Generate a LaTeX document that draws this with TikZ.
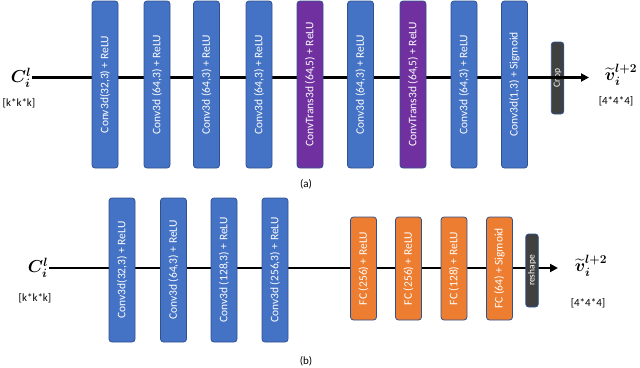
\documentclass[tikz,border=0pt]{standalone}
\usepackage{fontspec}
\setmainfont{Carlito}
\usepackage{amsmath,bm}
\usetikzlibrary{arrows.meta,backgrounds}

\definecolor{convblue}{HTML}{4472C4}
\definecolor{convedge}{HTML}{2F528F}
\definecolor{transpurple}{HTML}{7030A0}
\definecolor{fcorange}{HTML}{ED7D31}
\definecolor{cropgray}{HTML}{404040}

\begin{document}
\begin{tikzpicture}[x=1pt, y=-1pt,
    layer/.style={draw=convedge, line width=0.8pt, fill=convblue, rounded corners=3pt,
        text=white, rotate=90, inner sep=0pt, minimum height=26pt,
        font=\fontsize{11.5}{12}\selectfont},
    trans/.style={layer, fill=transpurple},
    fclayer/.style={layer, fill=fcorange},
    shaper/.style={layer, fill=cropgray, minimum height=12.5pt, font=\fontsize{9.5}{10}\selectfont},
    mathlabel/.style={font=\fontsize{18}{18}\selectfont, inner sep=1pt},
    sizelabel/.style={font=\fontsize{11}{12}\selectfont},
    flow/.style={line width=2.5pt}]
    \useasboundingbox (0,0) rectangle (640,367);

    % Encoder-decoder (a)
    \node[layer, minimum width=167pt] (a1) at (105,84.5) {Conv3d(32,3) + ReLU};
    \node[layer, minimum width=167pt] (a2) at (157,84.5) {Conv3d (64,3) + ReLU};
    \node[layer, minimum width=167pt] (a3) at (206.5,84.5) {Conv3d (64,3) + ReLU};
    \node[layer, minimum width=167pt] (a4) at (259,84.5) {Conv3d (64,3) + ReLU};
    \node[trans, minimum width=167pt] (a5) at (310,84.5) {ConvTrans3d (64,5) + ReLU};
    \node[layer, minimum width=167pt] (a6) at (360.5,84.5) {Conv3d (64,3) + ReLU};
    \node[trans, minimum width=167pt] (a7) at (413,84.5) {ConvTrans3d (64,5) + ReLU};
    \node[layer, minimum width=167pt] (a8) at (464,84.5) {Conv3d (64,3) + ReLU};
    \node[layer, minimum width=167pt] (a9) at (514.5,84.5) {Conv3d(1,3) + Sigmoid};
    \node[shaper, minimum width=72pt] (acrop) at (557.5,78) {Crop};

    % Input and output labels (a)
    \node[mathlabel] (ain) at (21,77.5) {$\bm{C_i^l}$};
    \node[sizelabel] (ainsz) at (19,103) {[k*k*k]};
    \node[mathlabel] (aout) at (621,75) {$\widetilde{\bm{v}}{}_{\bm{i}}^{\bm{l+2}}$};
    \node[sizelabel] (aoutsz) at (616,101) {[4*4*4]};
    \coordinate (aend) at (589,77.5);
    \node[sizelabel] (acap) at (306,184) {(a)};

    % Connectors (a)
    \begin{scope}[on background layer]
        \draw[flow] (ain.east) -- (ain.east -| a9.center);
    \end{scope}
    \draw[flow, -{Triangle[length=8pt, width=8pt]}] (ain.east -| a9.south) -- (aend);

    % Encoder with FC layers (b)
    \node[layer, minimum width=144pt] (b1) at (122,270) {Conv3d(32,3) + ReLU};
    \node[layer, minimum width=144pt] (b2) at (173.5,270) {Conv3d (64,3) + ReLU};
    \node[layer, minimum width=144pt] (b3) at (224,270) {Conv3d (128,3) + ReLU};
    \node[layer, minimum width=144pt] (b4) at (275,270) {Conv3d (256,3) + ReLU};
    \node[fclayer, minimum width=103pt] (b5) at (363.5,268.5) {FC (256) + ReLU};
    \node[fclayer, minimum width=103pt] (b6) at (408.5,268.5) {FC (256) + ReLU};
    \node[fclayer, minimum width=103pt] (b7) at (454,268.5) {FC (128) + ReLU};
    \node[fclayer, minimum width=103pt] (b8) at (499.5,268.5) {FC (64) + Sigmoid};
    \node[shaper, minimum width=73pt] (bshape) at (532,270.5) {reshape};

    % Input and output labels (b)
    \node[mathlabel] (bin) at (38,268) {$\bm{C_i^l}$};
    \node[sizelabel] (binsz) at (35,298) {[k*k*k]};
    \node[mathlabel] (bout) at (591,266) {$\widetilde{\bm{v}}{}_{\bm{i}}^{\bm{l+2}}$};
    \node[sizelabel] (boutsz) at (588,303) {[4*4*4]};
    \coordinate (bend) at (558,268);
    \node[sizelabel] (bcap) at (306,361) {(b)};

    % Connectors (b)
    \begin{scope}[on background layer]
        \draw[flow] (bin.east) -- (bin.east -| b8.center);
        \draw[flow, -{Triangle[length=8pt, width=8pt]}] (bin.east -| b8.center) -- (bend);
    \end{scope}
\end{tikzpicture}
\end{document}
